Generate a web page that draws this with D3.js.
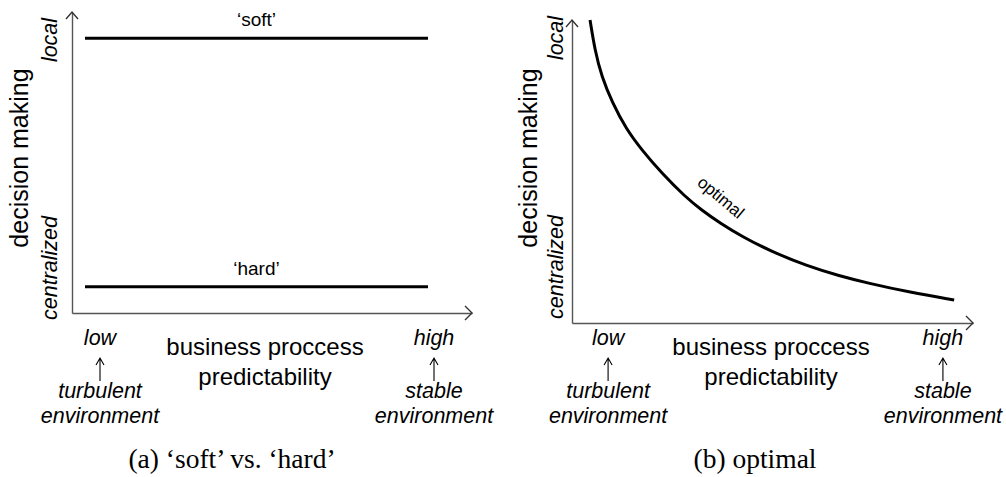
<!DOCTYPE html>
<html>
<head>
<meta charset="utf-8">
<script src="https://cdn.jsdelivr.net/npm/d3@7"></script>
<style>
  html, body { margin: 0; padding: 0; background: #fff; }
  svg text { font-family: Arial, "Liberation Sans", Helvetica, sans-serif; fill: #000; }
  .caption { font-family: "Liberation Serif", "Times New Roman", serif !important; }
</style>
</head>
<body>
<div id="chart"></div>
<script>
// Chart values (unitless 0..1 scales)
const xTickLabels = ["low", "high"];
const xNotes = [["turbulent", "environment"], ["stable", "environment"]];
const yTickLabels = ["centralized", "local"];
const xTitle = ["business proccess", "predictability"];
const yTitle = "decision making";

// panel (a)
const softX = [0.0325, 0.89];
const softY = [0.913, 0.913];
const hardX = [0.0325, 0.89];
const hardY = [0.087, 0.087];

// panel (b)
const optimalX = [0.045, 0.057, 0.074, 0.100, 0.135, 0.174, 0.224, 0.282, 0.323, 0.369, 0.426, 0.494, 0.586, 0.668, 0.736, 0.843, 0.953];
const optimalY = [1.000, 0.901, 0.813, 0.729, 0.640, 0.571, 0.494, 0.417, 0.373, 0.330, 0.284, 0.238, 0.188, 0.155, 0.132, 0.101, 0.076];

const W = 1006, H = 477;
const AXIS_COLOR = "#555";

const svg = d3.select("#chart").append("svg")
  .attr("width", W)
  .attr("height", H);

function zip(xs, ys) {
  return xs.map((x, i) => ({ x: x, y: ys[i] }));
}

function drawPanel(p) {
  const x = d3.scaleLinear().domain([0, 1]).range([p.left, p.right]);
  const y = d3.scaleLinear().domain([0, 1]).range([p.bottom, p.top]);

  // axes without ticks
  svg.append("g")
    .attr("transform", `translate(0,${p.bottom})`)
    .call(d3.axisBottom(x).tickValues([]).tickSizeOuter(0))
    .select(".domain")
    .attr("stroke", AXIS_COLOR)
    .attr("stroke-width", 1.4);

  svg.append("g")
    .attr("transform", `translate(${p.left},0)`)
    .call(d3.axisLeft(y).tickValues([]).tickSizeOuter(0))
    .select(".domain")
    .attr("stroke", AXIS_COLOR)
    .attr("stroke-width", 1.4);

  // open arrow heads
  const xt = x(1), yb = y(0);
  svg.append("path")
    .attr("d", `M${xt - 7},${yb - 7}L${xt},${yb}L${xt - 7},${yb + 7}`)
    .attr("fill", "none").attr("stroke", "#333").attr("stroke-width", 1.4);
  const yt = y(1), xl = x(0);
  svg.append("path")
    .attr("d", `M${xl - 6},${yt + 7}L${xl},${yt}L${xl + 6},${yt + 7}`)
    .attr("fill", "none").attr("stroke", "#333").attr("stroke-width", 1.4);

  // y-axis texts
  svg.append("text")
    .attr("transform", `translate(${p.yTitleX},${p.yTitleY}) rotate(-90)`)
    .attr("text-anchor", "middle")
    .style("font-size", "25px")
    .text(yTitle);

  yTickLabels.forEach((t, i) => {
    svg.append("text")
      .attr("transform", `translate(${p.yLabelX},${p.yLabelY[i]}) rotate(-90)`)
      .attr("text-anchor", "middle")
      .style("font-size", "21.5px")
      .style("font-style", "italic")
      .text(t);
  });

  // x-axis texts
  xTickLabels.forEach((t, i) => {
    const cx = x(p.xLabelPos[i]);
    svg.append("text")
      .attr("x", cx).attr("y", 345)
      .attr("text-anchor", "middle")
      .style("font-size", "21.5px")
      .style("font-style", "italic")
      .text(t);
    svg.append("path")
      .attr("d", `M${cx},381V359M${cx - 4},365L${cx},358L${cx + 4},365`)
      .attr("fill", "none").attr("stroke", "#000").attr("stroke-width", 1.1);
    xNotes[i].forEach((n, j) => {
      svg.append("text")
        .attr("x", cx).attr("y", 398 + j * 25)
        .attr("text-anchor", "middle")
        .style("font-size", "21.5px")
        .style("font-style", "italic")
        .text(n);
    });
  });

  xTitle.forEach((t, j) => {
    svg.append("text")
      .attr("x", p.xTitleX).attr("y", 355 + j * 30)
      .attr("text-anchor", "middle")
      .style("font-size", "24px")
      .text(t);
  });

  svg.append("text")
    .attr("class", "caption")
    .attr("x", p.captionX).attr("y", 468)
    .attr("text-anchor", "middle")
    .style("font-size", "27.5px")
    .text(p.caption);

  return { x: x, y: y };
}

// panel (a)
const a = drawPanel({
  left: 72, right: 472, top: 12, bottom: 313,
  yTitleX: 28, yTitleY: 158,
  yLabelX: 57, yLabelY: [268, 40],
  xLabelPos: [0.07, 0.905],
  xTitleX: 265,
  captionX: 232, caption: "(a) \u2018soft\u2019 vs. \u2018hard\u2019"
});

const lineA = d3.line().x(d => a.x(d.x)).y(d => a.y(d.y));
[zip(softX, softY), zip(hardX, hardY)].forEach(seg => {
  svg.append("path")
    .datum(seg)
    .attr("d", lineA)
    .attr("fill", "none")
    .attr("stroke", "#000")
    .attr("stroke-width", 3);
});
svg.append("text")
  .attr("x", a.x((softX[0] + softX[1]) / 2)).attr("y", a.y(softY[0]) - 12)
  .attr("text-anchor", "middle").style("font-size", "19px")
  .text("\u2018soft\u2019");
svg.append("text")
  .attr("x", a.x((hardX[0] + hardX[1]) / 2)).attr("y", a.y(hardY[0]) - 12)
  .attr("text-anchor", "middle").style("font-size", "19px")
  .text("\u2018hard\u2019");

// panel (b)
const b = drawPanel({
  left: 572, right: 973, top: 20, bottom: 323,
  yTitleX: 537, yTitleY: 158,
  yLabelX: 563, yLabelY: [267, 38],
  xLabelPos: [0.09, 0.925],
  xTitleX: 771,
  captionX: 755, caption: "(b) optimal"
});

const lineB = d3.line()
  .x(d => b.x(d.x))
  .y(d => b.y(d.y))
  .curve(d3.curveBasis);

svg.append("path")
  .datum(zip(optimalX, optimalY))
  .attr("d", lineB)
  .attr("fill", "none")
  .attr("stroke", "#000")
  .attr("stroke-width", 3);

svg.append("text")
  .attr("transform", `translate(${b.x(0.362)},${b.y(0.40)}) rotate(40)`)
  .attr("text-anchor", "middle")
  .style("font-size", "17px")
  .text("optimal");
</script>
</body>
</html>
